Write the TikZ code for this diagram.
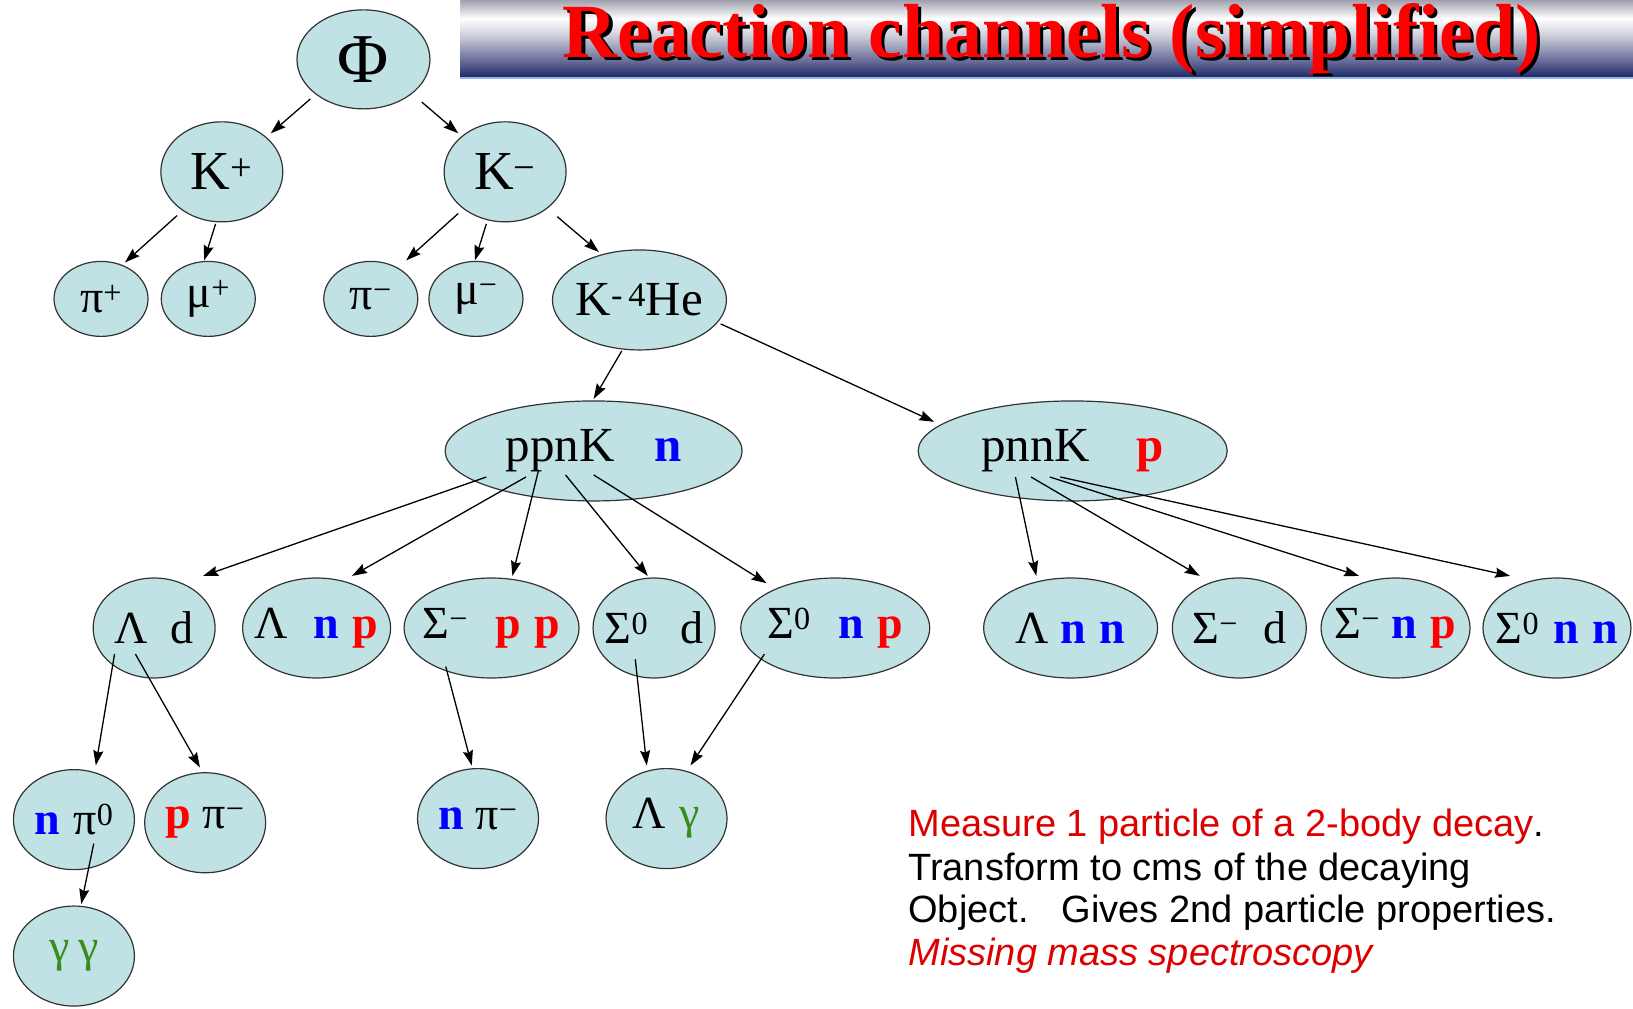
\documentclass[tikz,border=0pt]{standalone}
\usepackage{fontspec}
\setmainfont{Liberation Serif}
\newfontfamily\arialf{Liberation Sans}
\usetikzlibrary{shapes.geometric,arrows.meta,calc}
\definecolor{nodefill}{RGB}{192,226,228}
\definecolor{nblue}{RGB}{0,0,255}
\definecolor{pred}{RGB}{255,0,0}
\definecolor{ggreen}{RGB}{58,140,30}
\definecolor{txtred}{RGB}{220,0,0}
\definecolor{bnavy}{RGB}{30,40,105}
\definecolor{bmid}{RGB}{100,105,150}
\definecolor{bpale}{RGB}{205,207,218}
\definecolor{btop}{RGB}{160,160,175}
\definecolor{lblue}{RGB}{150,180,225}
\pgfdeclareverticalshading{bannershade}{100bp}{color(0bp)=(bnavy); color(25bp)=(bnavy); color(35bp)=(bmid); color(52bp)=(bpale); color(63bp)=(white); color(75bp)=(btop); color(100bp)=(btop)}
\newcommand{\nN}{\textcolor{nblue}{\textbf{n}}}
\newcommand{\pP}{\textcolor{pred}{\textbf{p}}}
\newcommand{\gG}{\textcolor{ggreen}{γ}}
\newcommand{\mk}[1]{\makebox[0pt][c]{#1}}
\newcommand{\mi}{\textsuperscript{−}}
\newcommand{\zs}{\textsuperscript{0}}
\newcommand{\conn}[4]{\draw[arr] ($(#1)+(#2)$) -- ($(#3)+(#4)$);}
\begin{document}
\begin{tikzpicture}[x=1.0415pt,y=-1.0415pt,
  ell/.style={ellipse, draw=black!80, line width=1.2pt, fill=nodefill, inner sep=0pt, minimum height=100pt},
  fbig/.style={font=\fontsize{70}{70}\selectfont},
  fk/.style={font=\fontsize{55}{55}\selectfont},
  fn/.style={font=\fontsize{46}{46}\selectfont},
  fm/.style={font=\fontsize{49}{49}\selectfont},
  arr/.style={line width=1.3pt, -{Stealth[length=15pt,width=10pt,inset=2pt]}},
  btxt/.style={anchor=base west, inner sep=0pt, font=\arialf\fontsize{38}{43}\selectfont}
]
\useasboundingbox (0,0) rectangle (1568,968);
% banner
\shade[shading=bannershade] (442,0) rectangle (1568,74);
\draw[lblue, line width=2pt] (442,75) -- (1568,75);
\node[anchor=base, inner sep=0pt, text=black] (titleshadow) at (1013,58) {\resizebox{978pt}{54pt}{\fontsize{60}{60}\selectfont\bfseries Reaction channels (simplified)}};
\node[anchor=base, inner sep=0pt, text=pred] (title) at (1010,55) {\resizebox{978pt}{54pt}{\fontsize{60}{60}\selectfont\bfseries Reaction channels (simplified)}};
% nodes
\node[ell, fbig, minimum width=133pt, minimum height=99pt] (phi) at (349,57) {\mk{Φ}};
\node[ell, fk, minimum width=122pt] (kp) at (213,165) {\mk{K\textsuperscript{+}}};
\node[ell, fk, minimum width=122pt] (km) at (485,165) {\mk{K\mi}};
\node[ell, fn, minimum width=94pt, minimum height=75pt] (pip) at (97,287) {\mk{π\textsuperscript{+}}};
\node[ell, fn, minimum width=94pt, minimum height=75pt] (mup) at (200,287) {\mk{μ\textsuperscript{+}}};
\node[ell, fn, minimum width=94pt, minimum height=75pt] (pim) at (356,287) {\mk{π\mi}};
\node[ell, fn, minimum width=94pt, minimum height=75pt] (mum) at (457,287) {\mk{μ\mi}};
\node[ell, fm, minimum width=174pt] (khe) at (614,288) {\mk{K\textsuperscript{-\,4}He}};
\node[ell, fm, minimum width=297pt] (ppn) at (570,433) {\mk{ppnK\hspace{0.8em}\nN}};
\node[ell, fm, minimum width=309pt] (pnn) at (1030,433) {\mk{pnnK\hspace{0.95em}\pP}};
% row 4
\node[ell, fn, minimum width=122pt] (ld) at (148,603) {\mk{Λ\hspace{0.5em}d}};
\node[ell, fn, minimum width=148pt] (lnp) at (304,603) {\mk{Λ\hspace{0.55em}\nN\hspace{0.3em}\pP}};
\node[ell, fn, minimum width=175pt] (spp) at (472,603) {\mk{Σ\mi\hspace{0.6em}\pP\hspace{0.3em}\pP}};
\node[ell, fn, minimum width=122pt] (s0d) at (628,603) {\mk{Σ\zs\hspace{0.7em}d}};
\node[ell, fn, minimum width=189pt] (s0np) at (802,603) {\mk{Σ\zs\hspace{0.6em}\nN\hspace{0.3em}\pP}};
\node[ell, fn, minimum width=174pt] (lnn) at (1028,603) {\mk{Λ\hspace{0.25em}\nN\hspace{0.3em}\nN}};
\node[ell, fn, minimum width=134pt] (smd) at (1190,603) {\mk{Σ\mi\hspace{0.55em}d}};
\node[ell, fn, minimum width=149pt] (smnp) at (1340,603) {\mk{Σ\mi\hspace{0.25em}\nN\hspace{0.3em}\pP}};
\node[ell, fn, minimum width=148pt] (s0nn) at (1495,603) {\mk{Σ\zs\hspace{0.3em}\nN\hspace{0.3em}\nN}};
% row 5
\node[ell, fn, minimum width=121pt] (npi0) at (71,787) {\mk{\nN\hspace{0.3em}π\zs}};
\node[ell, fn, minimum width=121pt] (ppim) at (197,790) {\mk{\pP\hspace{0.25em}π\mi}};
\node[ell, fn, minimum width=121pt] (npim) at (459,786) {\mk{\nN\hspace{0.25em}π\mi}};
\node[ell, fn, minimum width=121pt] (lg) at (640,786) {\mk{Λ\hspace{0.3em}\gG}};
\node[ell, fn, minimum width=121pt] (gg) at (71,918) {\mk{\gG\hspace{0.2em}\gG}};
% connectors
\conn{phi}{-51,38}{kp}{47,-37}
\conn{phi}{56,41}{km}{-45,-37}
\conn{kp}{-43,42}{pip}{23,-35}
\conn{kp}{-6,50}{mup}{-4,-37}
\conn{km}{-45,40}{pim}{34,-37}
\conn{km}{-18,50}{mum}{-1,-37}
\conn{km}{50,43}{khe}{-39,-46}
\conn{khe}{-17,49}{ppn}{0,-50}
\conn{khe}{78,23}{pnn}{-133,-28}
\conn{ppn}{-103,25}{ld}{47,-50}
\conn{ppn}{-65,25}{lnp}{34,-50}
\conn{ppn}{-53,19}{spp}{20,-50}
\conn{ppn}{-27,23}{s0d}{-6,-50}
\conn{ppn}{0,23}{s0np}{-66,-43}
\conn{pnn}{-55,25}{lnn}{-33,-50}
\conn{pnn}{-40,25}{smd}{-38,-50}
\conn{pnn}{-22,25}{smnp}{-35,-50}
\conn{pnn}{-12,25}{s0nn}{-45,-50}
\conn{ld}{-38,25}{npi0}{21,-52}
\conn{ld}{-18,25}{ppim}{-5,-53}
\conn{spp}{-44,37}{npim}{-6,-51}
\conn{s0d}{-18,30}{lg}{-19,-51}
\conn{s0np}{-68,25}{lg}{23,-51}
\conn{npi0}{19,23}{gg}{7,-50}
% text
\node[btxt] (m1) at (872,803) {\textcolor{txtred}{Measure 1 particle of a 2-body decay}.};
\node[btxt] (m2) at (872,845) {Transform to cms of the decaying};
\node[btxt] (m3) at (872,886) {Object.\hspace{0.5em} Gives 2nd particle properties.};
\node[btxt] (m4) at (872,927) {\textcolor{txtred}{\itshape Missing mass spectroscopy}};
\end{tikzpicture}
\end{document}
